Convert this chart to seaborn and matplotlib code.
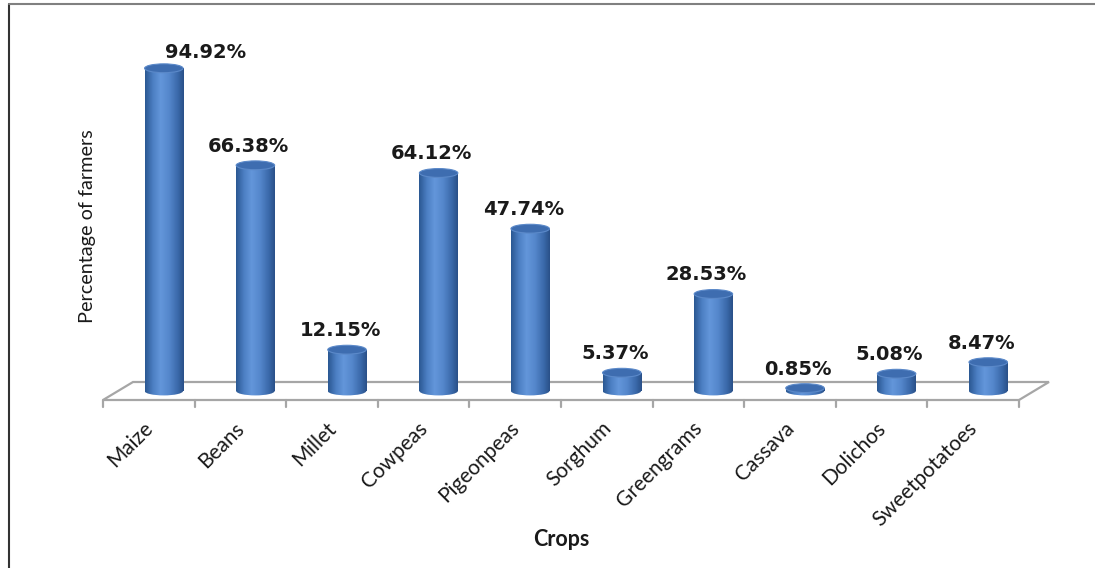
import numpy as np
import matplotlib
matplotlib.use('Agg')
import matplotlib.pyplot as plt
import seaborn as sns
from matplotlib.patches import Ellipse, Polygon
from matplotlib.lines import Line2D
from matplotlib.colors import LinearSegmentedColormap

# data
crops = ['Maize', 'Beans', 'Millet', 'Cowpeas', 'Pigeonpeas', 'Sorghum',
         'Greengrams', 'Cassava', 'Dolichos', 'Sweetpotatoes']
pct_farmers = [94.92, 66.38, 12.15, 64.12, 47.74, 5.37, 28.53, 0.85, 5.08, 8.47]

sns.set_style('white')
plt.rcParams['font.family'] = ['Lato', 'DejaVu Sans']

W, H = 1095, 568
fig = plt.figure(figsize=(W / 100, H / 100), dpi=100)

# pixel mapping: x_px = 163.8 + 91.6*x, y_px(top) = 391 - 3.40*y
xlim = (-0.8, 9.8)
ylim = (-8, 100)
px_x = lambda x: 163.8 + 91.6 * x
px_y = lambda y: 391 - 3.40 * y
left = px_x(xlim[0]) / W
right = px_x(xlim[1]) / W
bottom = (H - px_y(ylim[0])) / H
top = (H - px_y(ylim[1])) / H
ax = fig.add_axes([left, bottom, right - left, top - bottom])

bar_w = 0.42
sns.barplot(x=crops, y=pct_farmers, width=bar_w, color='#4f82c6',
            ax=ax, zorder=3, saturation=1)

# floor (depth offsets in data units)
dx, dy = 15 / 91.6, 9 / 3.40
n = len(crops)
floor = Polygon([(-0.5 - dx, -dy), (n - 0.5 - dx, -dy),
                 (n - 0.5 + dx, dy), (-0.5 + dx, dy)], closed=True,
                facecolor='none', edgecolor='#a6a6a6', lw=1.6, zorder=1,
                clip_on=False)
ax.add_patch(floor)
for k in range(n + 1):
    xk = k - 0.5 - dx
    ax.plot([xk, xk], [-dy, -dy - 7 / 3.40], color='#a6a6a6', lw=1.6,
            zorder=1, clip_on=False)

# cylinder shading
cmap = LinearSegmentedColormap.from_list(
    'cyl', [(0, '#2b5893'), (0.2, '#4c7fc3'), (0.4, '#6396da'),
            (0.62, '#5587cc'), (0.85, '#3a69aa'), (1, '#2a5189')])
grad = np.linspace(0, 1, 64).reshape(1, -1)
eh = 2.6
for patch, v in zip(ax.patches, pct_farmers):
    x0 = patch.get_x()
    w = patch.get_width()
    cx = x0 + w / 2
    patch.set_facecolor('none')
    patch.set_edgecolor('none')
    body = ax.imshow(grad, cmap=cmap, aspect='auto', zorder=3,
                     extent=[x0, x0 + w, -eh, v], interpolation='bilinear')
    body.set_clip_path(patch)
    base = Ellipse((cx, 0), w, eh, facecolor='none', edgecolor='none',
                   zorder=3)
    ax.add_patch(base)
    base_img = ax.imshow(grad, cmap=cmap, aspect='auto', zorder=3,
                         extent=[x0, x0 + w, -eh, v], interpolation='bilinear')
    base_img.set_clip_path(base)
    cap = Ellipse((cx, v), w, eh, facecolor='#3e6db0', edgecolor='#5b89c9',
                  lw=0.8, zorder=4)
    ax.add_patch(cap)

# value labels
for i, v in enumerate(pct_farmers):
    off = (-7, 19) if i else (42, 16)
    ax.annotate(f'{v:.2f}%', (i, v), xytext=off, textcoords='offset pixels',
                ha='center', va='center', fontsize=14, fontweight='bold',
                family='DejaVu Sans', color='#1a1a1a', zorder=5)

# category labels
for i, c in enumerate(crops):
    ax.annotate(c, (i, 0), xytext=(-21, -27), textcoords='offset pixels',
                ha='right', va='top', rotation=45, rotation_mode='anchor',
                fontsize=15, color='#1a1a1a')

ax.set_xlim(*xlim)
ax.set_ylim(*ylim)
ax.set_axis_off()

fig.text(87 / W, 1 - 226 / H, 'Percentage of farmers', rotation=90,
         ha='center', va='center', fontsize=14.3, color='#1a1a1a')
fig.text(561 / W, 1 - 540 / H, 'Crops', ha='center', va='center',
         fontsize=15.5, fontweight='bold', color='#1a1a1a')

# outer frame
fig.add_artist(Line2D([8.5 / W, 8.5 / W], [0, 1 - 3.5 / H], color='#333333', lw=1.5))
fig.add_artist(Line2D([8.5 / W, 1], [1 - 3.5 / H, 1 - 3.5 / H], color='#808080', lw=1.5))

fig.savefig('out.png', dpi=100, facecolor='white')
